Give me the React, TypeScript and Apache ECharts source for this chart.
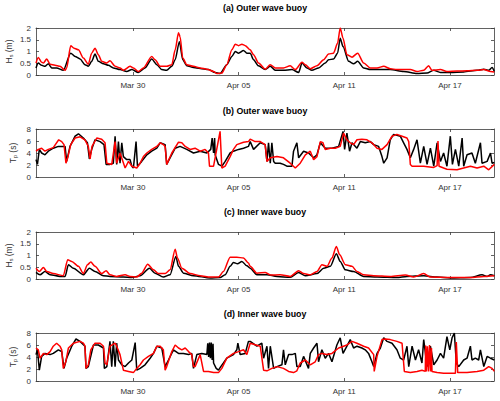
import React, { useEffect, useRef } from "react";
import * as echarts from "echarts";

// Time is in days since Mar 24 00:00; the window runs from Mar 24 12:00 to Apr 19 12:00.
const dayMin = 0.5;
const dayMax = 26.5;
const tickDays = [6, 12, 18, 24];
const tickLabels = ["Mar 30", "Apr 05", "Apr 11", "Apr 17"];

const panelTitles = [
  "(a) Outer wave buoy",
  "(b) Outer wave buoy",
  "(c) Inner wave buoy",
  "(d) Inner wave buoy",
];

// Significant wave height (m), outer buoy: black = measured, red = modelled
const outerHsObs: number[][] = [
  [0.50,0.30],[0.63,0.51],[0.82,0.41],[1.01,0.37],[1.20,0.48],[1.39,0.30],[1.67,0.30],[2.05,0.20],[2.47,0.93],[2.72,0.79],[3.00,0.68],[3.28,0.44],[3.47,0.37],[3.66,0.58],[3.85,0.89],[4.04,0.58],[4.33,0.48],[4.61,0.41],[4.89,0.30],[5.27,0.23],[5.65,0.15],[5.94,0.23],[6.31,0.11],[6.69,0.30],[7.07,0.68],[7.36,0.44],[7.64,0.23],[7.92,0.20],[8.21,0.37],[8.40,0.65],[8.64,1.42],[8.83,0.65],[9.06,0.39],[9.44,0.32],[9.82,0.28],[10.29,0.23],[10.67,0.11],[10.95,0.06],[11.33,0.44],[11.62,0.79],[11.81,1.0],[12.00,0.93],[12.28,1.04],[12.47,0.93],
  [12.66,0.93],[12.85,0.65],[13.13,0.39],[13.51,0.23],[13.80,0.37],[14.08,0.20],[14.55,0.20],[15.03,0.23],[15.41,0.11],[15.60,0.51],[15.88,0.30],[16.16,0.20],[16.54,0.30],[16.92,0.51],[17.11,0.65],[17.39,0.68],[17.62,0.93],[17.77,1.56],[17.93,1.21],[18.25,0.58],[18.53,0.48],[18.76,0.58],[19.10,0.30],[19.48,0.23],[20.24,0.23],[20.61,0.23],[21.37,0.15],[22.13,0.06],[22.70,0.08],[23.08,0.20],[23.46,0.11],[24.02,0.11],[24.78,0.13],[25.54,0.20],[25.92,0.25],[26.20,0.20],[26.39,0.32],[26.52,0.15],
];
const outerHsModel: number[][] = [
  [0.50,0.51],[0.63,0.75],[0.82,0.54],[0.92,0.51],[1.11,0.68],[1.30,0.46],[1.58,0.42],[1.86,0.37],[2.15,0.20],[2.24,0.30],[2.47,1.24],[2.66,1.14],[2.91,1.07],[3.19,0.72],[3.47,0.46],[3.66,0.93],[3.85,1.14],[4.04,0.86],[4.23,0.58],[4.52,0.51],[4.70,0.61],[4.99,0.37],[5.27,0.30],[5.46,0.20],[5.84,0.37],[6.03,0.30],[6.31,0.15],[6.60,0.30],[7.07,0.79],[7.26,0.65],[7.55,0.37],[7.92,0.37],[8.21,0.44],[8.40,1.07],[8.59,1.80],[8.68,1.63],[8.83,0.72],[9.06,0.44],[9.44,0.37],[9.82,0.30],[10.20,0.25],[10.58,0.15],[10.77,0.06],[11.05,0.08],[11.33,0.44],[11.62,1.07],[11.81,1.31],[12.00,1.25],[12.19,1.31],[12.38,1.25],
  [12.66,1.07],[12.85,0.86],[13.13,0.51],[13.51,0.25],[13.80,0.44],[14.08,0.30],[14.55,0.30],[14.93,0.39],[15.22,0.23],[15.60,0.54],[15.79,0.44],[16.07,0.27],[16.45,0.39],[16.83,0.65],[17.11,0.89],[17.39,0.93],[17.62,1.35],[17.77,2.0],[17.93,1.56],[18.15,0.86],[18.44,0.76],[18.76,0.93],[19.10,0.51],[19.48,0.30],[19.86,0.30],[20.24,0.37],[20.61,0.27],[20.99,0.23],[21.75,0.23],[22.13,0.15],[22.51,0.20],[22.79,0.39],[22.98,0.20],[23.46,0.23],[23.83,0.15],[24.40,0.17],[24.97,0.18],[25.54,0.20],[25.92,0.23],[26.30,0.15],[26.52,0.13],
];

// Peak wave period (s), outer buoy
const outerTpObs: number[][] = [
  [0.50,2.9],[0.58,2.1],[0.69,4.6],[0.82,4.0],[1.01,3.7],[1.20,4.3],[1.48,4.8],[1.77,5.1],[2.15,5.1],[2.24,2.6],[2.43,5.1],[2.72,6.8],[2.91,7.2],[3.19,6.5],[3.42,5.7],[3.53,3.0],[3.66,4.6],[3.85,6.2],[4.14,5.9],[4.36,5.4],[4.48,2.1],[4.70,2.1],[4.89,2.3],[4.99,6.8],[5.08,2.1],[5.18,5.9],[5.27,2.3],[5.37,5.7],[5.46,3.4],[5.65,2.9],[5.84,2.9],[5.94,1.8],[6.03,1.5],[6.18,5.9],[6.26,1.8],[6.50,2.6],[6.79,3.7],[7.07,4.3],[7.36,4.8],[7.55,5.7],[7.83,5.4],[7.92,2.1],[8.11,3.2],[8.40,4.8],[8.68,5.1],[9.06,4.6],[9.44,4.0],[9.82,4.3],[10.20,4.0],[10.42,4.6],[10.50,6.5],[10.58,4.0],[10.64,6.5],[10.67,3.7],[10.86,2.1],[11.05,1.8],[11.24,2.6],[11.52,4.0],[11.71,4.3],[12.00,4.6],[12.28,4.8],[12.56,5.1],
  [12.66,5.9],[12.85,4.6],[13.23,5.7],[13.51,5.4],[13.61,2.6],[13.70,5.7],[13.80,2.3],[13.89,5.7],[13.99,2.6],[14.08,2.3],[14.36,2.3],[14.55,2.1],[14.74,1.8],[15.03,1.8],[15.12,4.3],[15.31,5.7],[15.41,3.2],[15.69,4.3],[15.97,4.0],[16.26,3.2],[16.45,3.7],[16.64,5.7],[16.92,4.8],[17.30,4.8],[17.68,5.1],[17.93,7.6],[18.02,4.6],[18.15,7.3],[18.30,4.3],[18.44,5.7],[18.72,4.8],[18.91,5.9],[19.19,5.7],[19.48,5.9],[19.67,5.4],[19.95,5.1],[20.14,3.4],[20.24,2.3],[20.43,3.2],[20.61,6.2],[20.80,7.1],[21.18,6.8],[21.37,5.7],[21.56,4.6],[21.75,3.2],[21.94,4.6],[22.13,6.2],[22.32,2.3],[22.51,5.1],[22.70,2.1],[22.89,4.8],[23.08,1.8],[23.27,5.7],[23.46,2.6],[23.64,4.0],[23.83,1.8],[24.02,6.8],[24.14,2.1],[24.31,4.6],[24.50,1.8],[24.69,6.5],[24.78,1.8],[24.97,3.7],[25.25,4.0],[25.44,2.3],[25.73,5.7],[25.82,2.3],[26.11,2.6],[26.30,4.0],[26.39,2.3],[26.52,2.4],
];
const outerTpModel: number[][] = [
  [0.50,4.3],[0.63,4.6],[0.82,4.8],[1.01,4.3],[1.20,4.6],[1.48,4.9],[1.79,6.2],[1.96,5.9],[2.09,5.4],[2.20,2.3],[2.30,3.2],[2.47,5.4],[2.72,6.5],[3.00,6.7],[3.28,6.2],[3.47,5.1],[3.57,3.0],[3.68,5.1],[3.95,6.5],[4.23,6.3],[4.42,5.7],[4.52,2.3],[4.80,2.1],[4.99,5.9],[5.08,2.3],[5.27,4.0],[5.56,1.5],[5.75,2.6],[5.94,1.8],[6.22,1.5],[6.41,2.3],[6.60,3.4],[6.79,4.0],[7.07,4.6],[7.36,5.1],[7.55,5.7],[7.73,5.4],[7.83,5.1],[7.92,2.1],[8.21,4.0],[8.59,5.8],[8.78,5.7],[8.97,5.1],[9.25,4.6],[9.53,4.8],[9.82,4.3],[10.10,4.6],[10.29,4.0],[10.35,1.8],[10.58,1.8],[10.86,6.2],[10.95,7.6],[11.05,1.5],[11.24,1.8],[11.52,3.4],[11.71,4.6],[11.90,5.4],[12.28,5.8],[12.56,5.9],
  [12.66,6.3],[12.94,5.9],[13.23,5.9],[13.51,5.4],[13.61,2.6],[13.80,3.2],[14.18,3.4],[14.55,3.2],[14.93,2.3],[15.22,1.5],[15.50,2.3],[15.79,3.7],[16.07,4.3],[16.26,2.9],[16.45,3.4],[16.64,5.9],[16.79,5.7],[16.92,4.6],[17.21,4.8],[17.49,4.8],[17.77,5.1],[17.96,7.3],[18.15,6.2],[18.34,5.7],[18.53,5.4],[18.72,6.2],[19.00,6.3],[19.29,6.2],[19.57,5.7],[19.86,4.8],[20.14,4.6],[20.43,5.4],[20.71,6.8],[20.99,7.1],[21.28,6.8],[21.56,6.5],[21.66,5.9],[21.75,2.1],[21.85,1.8],[22.51,1.8],[23.08,1.6],[23.27,1.9],[23.32,6.0],[23.38,1.8],[23.64,1.5],[23.83,1.3],[24.40,1.2],[24.78,1.5],[25.16,1.8],[25.54,1.5],[25.92,1.8],[26.20,1.2],[26.52,2.1],
];

// Significant wave height (m), inner buoy
const innerHsObs: number[][] = [
  [0.50,0.28],[0.73,0.18],[1.01,0.32],[1.30,0.18],[1.86,0.11],[2.15,0.11],[2.34,0.61],[2.62,0.46],[3.19,0.18],[3.53,0.46],[3.85,0.32],[4.33,0.14],[4.70,0.11],[5.46,0.08],[5.94,0.06],[6.41,0.14],[6.94,0.46],[7.26,0.25],[7.73,0.08],[8.11,0.18],[8.44,0.96],[8.59,0.54],[8.87,0.25],[9.44,0.14],[10.39,0.04],[10.95,0.06],[11.24,0.18],[11.52,0.54],[11.71,0.70],[11.94,0.65],[12.19,0.75],[12.47,0.56],
  [12.66,0.46],[13.04,0.18],[13.61,0.18],[14.18,0.11],[14.93,0.07],[15.41,0.28],[15.79,0.14],[16.45,0.23],[16.83,0.46],[17.21,0.54],[17.55,1.07],[17.77,0.75],[18.06,0.39],[18.53,0.32],[19.10,0.11],[19.86,0.08],[20.99,0.06],[21.56,0.11],[22.51,0.14],[23.27,0.08],[24.02,0.04],[25.16,0.06],[25.82,0.18],[26.11,0.11],[26.30,0.18],[26.52,0.14],
];
const innerHsModel: number[][] = [
  [0.50,0.46],[0.69,0.32],[0.92,0.49],[1.11,0.32],[1.48,0.23],[2.05,0.14],[2.30,0.82],[2.53,0.75],[2.91,0.54],[3.19,0.23],[3.42,0.61],[3.61,0.72],[3.85,0.54],[4.23,0.23],[4.48,0.35],[4.70,0.18],[5.08,0.11],[5.56,0.18],[5.84,0.11],[6.22,0.08],[6.50,0.25],[6.84,0.63],[7.17,0.39],[7.45,0.23],[7.83,0.23],[8.11,0.39],[8.40,1.27],[8.53,0.89],[8.78,0.46],[9.25,0.23],[9.82,0.14],[10.39,0.08],[10.86,0.08],[11.14,0.32],[11.52,0.93],[11.90,0.93],[12.28,0.89],[12.56,0.68],
  [12.66,0.54],[13.04,0.25],[13.51,0.28],[13.80,0.17],[14.36,0.18],[14.93,0.11],[15.41,0.35],[15.69,0.23],[16.07,0.18],[16.45,0.32],[16.73,0.61],[17.02,0.54],[17.30,0.89],[17.55,1.38],[17.74,1.03],[18.06,0.61],[18.44,0.54],[18.72,0.32],[19.10,0.18],[19.67,0.14],[20.61,0.11],[21.47,0.17],[21.94,0.08],[22.51,0.23],[22.89,0.08],[24.02,0.06],[25.16,0.06],[25.92,0.11],[26.52,0.14],
];

// Peak wave period (s), inner buoy
const innerTpObs: number[][] = [
  [0.50,4.4],[0.58,5.2],[0.69,1.8],[0.82,4.1],[1.01,4.6],[1.30,4.4],[1.48,4.6],[1.77,5.2],[1.96,4.9],[2.09,2.1],[2.24,3.8],[2.53,5.8],[2.77,7.0],[3.00,6.6],[3.28,5.8],[3.34,2.1],[3.47,2.4],[3.76,6.0],[4.04,6.0],[4.33,5.5],[4.38,2.1],[4.52,2.4],[4.70,6.6],[4.80,2.4],[4.89,6.6],[4.99,2.4],[5.08,6.3],[5.18,3.5],[5.37,2.7],[5.56,2.4],[5.75,3.0],[5.94,3.5],[6.13,6.4],[6.22,1.8],[6.41,2.1],[6.69,2.7],[6.98,3.8],[7.17,4.6],[7.36,5.8],[7.64,5.5],[7.83,2.4],[8.02,3.5],[8.30,5.2],[8.59,4.6],[8.87,4.6],[9.16,4.4],[9.34,4.6],[9.44,2.1],[9.63,4.4],[9.91,4.6],[10.20,4.4],[10.25,6.3],[10.30,4.0],[10.35,6.4],[10.40,3.8],[10.45,6.4],[10.50,3.5],[10.55,6.2],[10.58,3.0],[10.73,2.1],[10.86,1.8],[10.99,2.4],[11.14,3.0],[11.33,3.8],[11.52,4.1],[11.71,4.4],[11.90,5.2],[11.96,6.3],[12.09,4.4],[12.38,4.6],[12.56,6.6],
  [12.66,6.6],[13.04,5.8],[13.32,6.3],[13.42,3.8],[13.61,5.8],[13.70,2.1],[13.80,5.8],[13.99,2.1],[14.18,2.4],[14.46,2.7],[14.55,5.2],[14.65,2.7],[14.84,4.4],[15.03,4.4],[15.22,4.6],[15.31,2.4],[15.50,2.4],[15.69,4.1],[15.97,2.1],[16.07,4.6],[16.26,5.5],[16.45,6.3],[16.54,3.2],[16.73,5.2],[16.92,3.8],[17.11,4.6],[17.30,3.2],[17.58,6.0],[17.77,7.2],[17.93,4.6],[18.15,5.8],[18.34,6.9],[18.53,5.5],[18.72,5.8],[19.00,5.5],[19.19,5.2],[19.38,4.6],[19.57,3.2],[19.67,2.4],[19.86,4.6],[20.05,5.5],[20.24,7.2],[20.43,6.6],[20.71,6.3],[20.99,5.2],[21.18,3.8],[21.37,3.5],[21.56,5.8],[21.66,2.4],[21.85,5.8],[22.04,3.5],[22.22,5.2],[22.41,3.0],[22.51,6.9],[22.70,2.4],[22.89,5.8],[23.08,2.7],[23.27,3.5],[23.46,4.6],[23.64,3.8],[23.83,7.4],[23.99,5.2],[24.12,7.2],[24.25,8.0],[24.36,3.0],[24.50,2.4],[24.78,3.5],[24.97,3.8],[25.16,5.8],[25.25,3.5],[25.44,3.8],[25.63,3.5],[25.73,5.2],[25.92,2.4],[26.11,4.1],[26.30,3.8],[26.52,3.5],
];
const innerTpModel: number[][] = [
  [0.50,5.5],[0.63,5.2],[0.73,3.8],[0.92,4.6],[1.11,4.4],[1.30,4.9],[1.48,5.8],[1.67,6.3],[1.86,5.8],[1.96,5.2],[2.05,2.1],[2.19,3.2],[2.34,5.5],[2.62,6.3],[3.00,6.6],[3.19,6.3],[3.28,5.8],[3.34,2.1],[3.47,2.7],[3.61,5.2],[3.85,6.3],[4.14,6.3],[4.33,5.8],[4.42,3.0],[4.52,2.7],[4.70,5.8],[4.99,6.3],[5.08,5.8],[5.27,4.4],[5.46,1.8],[5.75,1.6],[6.03,1.4],[6.22,2.1],[6.41,2.7],[6.60,3.5],[6.88,4.1],[7.17,4.6],[7.36,5.8],[7.55,5.8],[7.73,5.2],[7.83,1.8],[7.92,2.4],[8.21,4.9],[8.40,6.0],[8.59,5.5],[8.78,5.2],[8.97,5.5],[9.16,4.9],[9.34,4.4],[9.44,2.4],[9.53,2.4],[9.82,4.4],[10.01,1.6],[10.29,1.6],[10.58,1.4],[10.86,1.4],[11.05,2.1],[11.33,3.8],[11.71,4.6],[12.00,4.9],[12.28,5.2],[12.47,4.4],
  [12.66,6.3],[13.23,5.8],[13.42,1.8],[13.61,1.7],[13.89,2.1],[14.18,2.4],[14.55,2.1],[14.84,1.6],[15.12,1.4],[15.31,1.7],[15.50,3.0],[15.79,3.5],[16.07,2.7],[16.35,3.2],[16.54,4.4],[16.73,4.6],[17.02,4.4],[17.30,4.6],[17.68,5.5],[17.96,5.8],[18.15,6.0],[18.44,6.6],[18.72,6.3],[19.10,5.8],[19.38,5.5],[19.67,4.4],[19.70,1.6],[19.86,4.1],[20.14,6.9],[20.33,7.0],[20.61,6.9],[20.99,6.6],[21.28,6.3],[21.41,1.6],[21.75,1.4],[22.13,1.6],[22.41,1.8],[22.60,1.6],[22.62,5.9],[22.66,1.6],[22.72,5.8],[22.78,1.6],[22.84,6.0],[22.90,1.6],[22.95,5.5],[22.98,1.6],[23.27,1.4],[23.64,1.3],[24.02,1.3],[24.31,1.3],[24.36,6.5],[24.44,1.4],[24.97,1.4],[25.54,1.6],[25.92,1.8],[26.20,2.4],[26.39,2.1],[26.52,1.6],
];

const FONT = "'Liberation Sans', Arial, Helvetica, sans-serif";
const AXIS_COLOR = "#3a3a3a";
const LABEL_COLOR = "#333333";

// Plot boxes: [top, height] in pixels; all share the same left/right edges
const PLOT_LEFT = 36;
const PLOT_RIGHT = 6;
const boxes = [
  [28, 47],
  [129, 48],
  [232, 47],
  [333, 48],
];
const titleY = [8, 111, 212, 314];

const yMax = [2, 8, 2, 8];
const yStep = [0.5, 2, 0.5, 2];
const yNames = [
  ["H", "s", " (m)"],
  ["T", "p", " (s)"],
  ["H", "s", " (m)"],
  ["T", "p", " (s)"],
];
const yNameX = [9, 13, 9, 13];
// wave height traces are drawn slightly smoothed; period traces keep their steps
const smoothing = [0.25, 0, 0.25, 0];

const panels = [
  [outerHsObs, outerHsModel],
  [outerTpObs, outerTpModel],
  [innerHsObs, innerHsModel],
  [innerTpObs, innerTpModel],
];

function buildOption() {
  const grids: any[] = [];
  const xAxes: any[] = [];
  const yAxes: any[] = [];
  const series: any[] = [];
  const graphics: any[] = [];

  boxes.forEach(([top, height], gi) => {
    grids.push({ left: PLOT_LEFT, right: PLOT_RIGHT, top, height, containLabel: false });

    ["bottom", "top"].forEach((pos) => {
      xAxes.push({
        type: "value",
        gridIndex: gi,
        position: pos,
        min: dayMin,
        max: dayMax,
        axisLine: { show: true, onZero: false, lineStyle: { color: AXIS_COLOR, width: 0.8 } },
        axisTick: {
          show: true,
          inside: true,
          length: 3,
          customValues: tickDays,
          lineStyle: { color: AXIS_COLOR, width: 0.8 },
        },
        axisLabel: {
          show: pos === "bottom",
          customValues: tickDays,
          formatter: (v: number) => {
            const i = tickDays.indexOf(Math.round(v));
            return i >= 0 ? tickLabels[i] : "";
          },
          fontSize: 8,
          color: LABEL_COLOR,
          fontFamily: FONT,
          margin: 6,
        },
        splitLine: { show: false },
      });
    });

    ["left", "right"].forEach((pos) => {
      yAxes.push({
        type: "value",
        gridIndex: gi,
        position: pos,
        min: 0,
        max: yMax[gi],
        interval: yStep[gi],
        axisLine: { show: true, onZero: false, lineStyle: { color: AXIS_COLOR, width: 0.8 } },
        axisTick: { show: true, inside: true, length: 3, lineStyle: { color: AXIS_COLOR, width: 0.8 } },
        axisLabel: {
          show: pos === "left",
          fontSize: 8,
          color: LABEL_COLOR,
          fontFamily: FONT,
          margin: 5,
        },
        splitLine: { show: false },
      });
    });

    const [obs, model] = panels[gi];
    series.push({
      type: "line",
      xAxisIndex: gi * 2,
      yAxisIndex: gi * 2,
      data: obs,
      showSymbol: false,
      smooth: smoothing[gi],
      smoothMonotone: "x",
      lineStyle: { color: "#000000", width: 1.5 },
      z: 2,
    });
    series.push({
      type: "line",
      xAxisIndex: gi * 2,
      yAxisIndex: gi * 2,
      data: model,
      showSymbol: false,
      smooth: smoothing[gi],
      smoothMonotone: "x",
      lineStyle: { color: "#ff0000", width: 1.5 },
      z: 3,
    });

    // panel title
    graphics.push({
      type: "text",
      x: PLOT_LEFT + (500 - PLOT_LEFT - PLOT_RIGHT) / 2,
      y: titleY[gi],
      style: {
        text: panelTitles[gi],
        font: `bold 8.8px ${FONT}`,
        fill: "#000000",
        align: "center",
        verticalAlign: "middle",
      },
    });

    // rotated y-axis name with a subscript
    const [main, sub, unit] = yNames[gi];
    const fs = 8.5;
    const sfs = 5.5;
    const wMain = main === "H" ? 0.722 * fs : 0.611 * fs;
    const wSub = sub === "s" ? 0.5 * sfs : 0.556 * sfs;
    const wUnit = (unit === " (m)" ? 1.777 : 1.444) * fs;
    const start = -(wMain + wSub + wUnit) / 2;
    graphics.push({
      type: "group",
      x: yNameX[gi],
      y: top + height / 2,
      rotation: Math.PI / 2,
      children: [
        {
          type: "text",
          x: start,
          y: 0,
          style: { text: main, font: `${fs}px ${FONT}`, fill: LABEL_COLOR, align: "left", verticalAlign: "middle" },
        },
        {
          type: "text",
          x: start + wMain,
          y: 2.2,
          style: { text: sub, font: `${sfs}px ${FONT}`, fill: LABEL_COLOR, align: "left", verticalAlign: "middle" },
        },
        {
          type: "text",
          x: start + wMain + wSub,
          y: 0,
          style: { text: unit, font: `${fs}px ${FONT}`, fill: LABEL_COLOR, align: "left", verticalAlign: "middle" },
        },
      ],
    });
  });

  return {
    animation: false,
    backgroundColor: "#ffffff",
    grid: grids,
    xAxis: xAxes,
    yAxis: yAxes,
    series,
    graphic: graphics,
  };
}

export default function App() {
  const ref = useRef<HTMLDivElement>(null);
  useEffect(() => {
    if (!ref.current) return;
    const chart = echarts.init(ref.current, undefined, { renderer: "svg" });
    chart.setOption(buildOption() as any);
    return () => chart.dispose();
  }, []);
  return (
    <div
      ref={ref}
      style={{ position: "fixed", left: 0, top: 0, width: 500, height: 401, background: "#fff" }}
    />
  );
}
